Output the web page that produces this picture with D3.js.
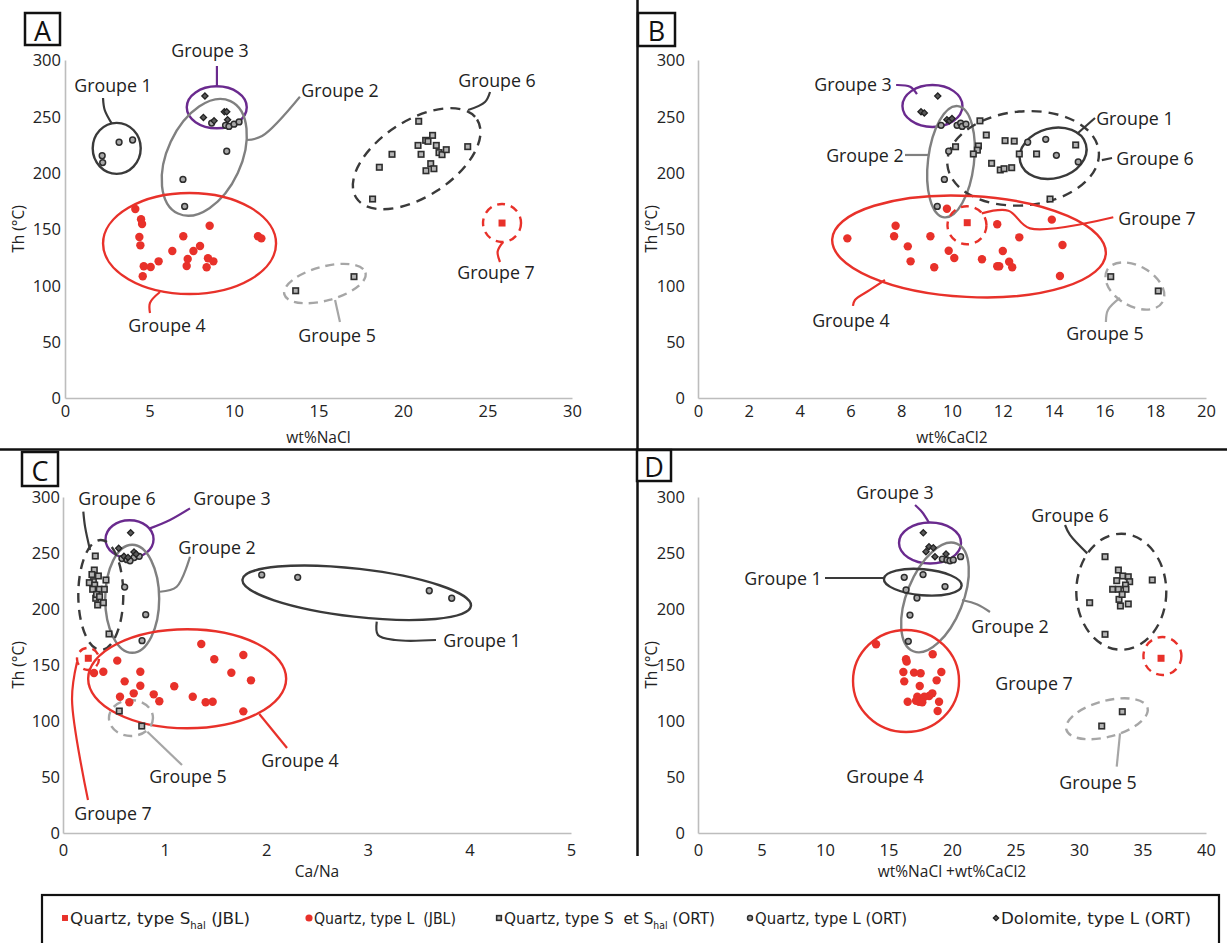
<!DOCTYPE html>
<html><head><meta charset="utf-8">
<script src="https://cdn.jsdelivr.net/npm/d3@7"></script>
<style>body{margin:0;background:#fff} svg{display:block} text{white-space:pre}</style>
</head><body><svg id="c" width="1227" height="943"></svg>
<script>
// ---------- DATA ----------
const thTicks = [0, 50, 100, 150, 200, 250, 300];
const ticksA = [0, 5, 10, 15, 20, 25, 30];
const ticksB = [0, 2, 4, 6, 8, 10, 12, 14, 16, 18, 20];
const ticksC = [0, 1, 2, 3, 4, 5];
const ticksD = [0, 5, 10, 15, 20, 25, 30, 35, 40];

// Panel A : wt%NaCl vs Th
const A_qS_JBL = [[25.86,155.3]];
const A_qL_JBL = [[4.16,167.7],[4.50,158.6],[4.56,154.4],[8.56,152.9],[4.40,142.9],[7.0,143.5],[4.46,135.5],[11.42,143.5],[11.62,141.7],[7.99,134.9],[6.35,130.5],[7.6,130.5],[7.26,123.4],[8.46,124],[8.78,121.3],[5.54,121.3],[4.66,116.9],[5.07,116.3],[7.2,117.2],[8.38,116],[4.6,108]];
const A_qS_ORT = [[20.93,245.6],[18.6,204.8],[19.35,216.3],[18.2,176.6],[21.34,228.7],[21.48,227.8],[21.75,233.1],[20.89,224.2],[21.97,224.2],[21.07,216.3],[22.13,217.8],[22.31,216],[22.56,220.4],[23.83,223.1],[21.64,208],[21.83,203.5],[21.36,201.7],[13.65,95.2],[17.1,107.7]];
const A_qL_ORT = [[3.2,227],[4.0,229],[2.2,215],[2.23,209],[8.68,244],[9.5,242],[9.7,241],[10.0,243],[10.3,245],[9.57,219],[6.98,194],[7.08,170]];
const A_dolo = [[8.28,268],[8.19,249],[8.82,246],[9.43,254],[9.57,254],[9.62,247]];

// Panel B : wt%CaCl2 vs Th
const B_qS_JBL = [[10.6,155.6]];
const B_qL_JBL = [[5.88,141.7],[7.78,152.9],[7.72,143.5],[9.15,143.5],[8.26,134.6],[9.87,130.7],[8.37,121.3],[9.3,116],[10.09,124.3],[11.18,123.1],[9.8,168],[11.78,154.2],[12.65,142.6],[13.93,158.3],[14.35,135.8],[12.0,130.5],[11.78,117],[11.86,117],[12.25,121],[12.37,116],[14.25,108.3]];
const B_qS_ORT = [[11.1,246],[11.35,233.4],[10.14,223],[11.04,223.7],[11.0,220],[10.84,216.6],[12.09,228.4],[12.45,228],[12.65,216.6],[11.56,208.3],[11.9,202.4],[12.05,203.5],[12.35,204.4],[13.33,216.6],[14.87,224.6],[13.86,176.6],[16.25,107.7],[18.12,95]];
const B_qL_ORT = [[9.57,242],[10.2,242],[10.34,244],[10.4,241],[10.55,243],[9.87,219],[9.7,194],[9.42,170],[12.98,227],[13.69,229.6],[14.11,215.4],[14.97,209.5]];
const B_dolo = [[9.44,268],[8.78,254],[8.91,253],[9.8,247],[9.9,246],[10.0,248]];

// Panel C : Ca/Na vs Th
const C_qS_JBL = [[0.249,156]];
const C_qL_JBL = [[1.361,168.8],[1.775,158.9],[1.489,155.1],[0.534,153.9],[0.305,142.9],[0.397,144],[0.761,144],[1.657,143.1],[1.85,136.3],[0.607,135.4],[0.761,131.5],[1.095,131],[0.696,124.7],[0.893,123.8],[0.561,121.7],[1.277,121.7],[0.653,116.7],[0.948,117.6],[1.404,116.7],[1.473,117.2],[1.775,108.6]];
const C_qS_ORT = [[0.318,247.3],[0.308,234.8],[0.348,229.5],[0.423,225.9],[0.299,224.4],[0.259,223.5],[0.312,221.4],[0.292,217.6],[0.357,217.6],[0.407,217.6],[0.322,209.6],[0.341,203.6],[0.397,205.6],[0.453,177.7],[0.285,230.8],[0.33,213],[0.36,211],[0.554,108.9],[0.775,95.5]];
const C_qL_ORT = [[0.58,245],[0.63,244],[0.7,246],[0.75,247],[0.66,243],[0.607,219.6],[0.814,194.9],[0.778,171.7],[1.956,230.4],[2.31,228.3],[3.605,216.3],[3.826,209.6]];
const C_dolo = [[0.666,268],[0.548,254.2],[0.699,250.9],[0.6,247],[0.64,246],[0.72,249]];

// Panel D : wt%NaCl + wt%CaCl2 vs Th
const D_qS_JBL = [[36.46,156]];
const D_qL_JBL = [[14.02,168.5],[18.48,159.6],[16.38,155.1],[16.43,153],[16.17,143.8],[17.01,143.2],[17.53,142.6],[19.16,143.8],[16.24,135.4],[18.79,136.3],[17.46,131.3],[18.45,124.7],[18.2,122.3],[17.27,121.7],[17.82,121.7],[16.51,117.2],[17.4,117.2],[17.66,116.7],[18.98,117.2],[18.87,108.9],[17.17,118.1]];
const D_qS_ORT = [[32.05,246.7],[35.77,225.9],[30.84,205.6],[32.05,177.4],[33.1,234.8],[33.44,229.5],[33.88,228.8],[32.97,225.3],[33.99,224.4],[33.66,221.4],[32.65,217.6],[33.1,217.6],[33.7,217.6],[33.15,208.6],[33.26,202.7],[33.88,204.5],[33.4,213],[33.41,108.3],[31.79,95.5]];
const D_qL_ORT = [[19.24,244.6],[19.6,243.8],[19.84,243.1],[20.1,243.8],[20.68,246.7],[16.24,228.3],[17.72,230.7],[16.38,217],[19.45,220],[17.24,209.8],[16.69,194.6],[16.56,171.1]];
const D_dolo = [[17.74,268],[18.19,255.6],[18.53,254.7],[17.95,251.2],[19.53,249.1],[18.66,246.7]];

// Group annotations (centres, leaders and labels in data units)
const A_groups = [
 {t:"Groupe 1",s:"dark",c:[3.06,221.6],r:[24,25.5],rot:0,lead:[[2.76,243.8],[2.35,255.6],[2.25,266.3]],lab:[2.84,277.8]},
 {t:"Groupe 3",s:"purple",c:[8.98,258],r:[30,21],rot:0,lead:[[8.99,276],[8.99,294.7]],lab:[8.58,308.9]},
 {t:"Groupe 2",s:"gray",c:[8.24,213.6],r:[62,37],rot:-65,lead:[[10.75,229],[11.66,232.5],[13.9,267.4]],lab:[16.27,273.4]},
 {t:"Groupe 4",s:"red",c:[7.37,137.1],r:[86.5,50.5],rot:0,lead:[[5.62,94.1],[5.03,84.5],[5.03,75.4]],lab:[6.04,64.8]},
 {t:"Groupe 5",s:"grayDash",c:[15.38,101.6],r:[42,17],rot:-15,lead:[[15.98,87],[16.27,67.5]],lab:[16.1,55.9]},
 {t:"Groupe 6",s:"darkDash",c:[20.81,212.4],r:[72,38],rot:-33,lead:[[23.85,255.6],[24.85,262.7],[25.15,271.6]],lab:[25.56,282.2]},
 {t:"Groupe 7",s:"redDash",c:[25.86,155.3],r:[19,19],rot:0,lead:[[25.92,138.5],[25.6,130],[25.74,120.7]],lab:[25.5,111.8]}
];
const B_groups = [
 {t:"Groupe 3",s:"purple",c:[9.23,259.2],r:[30,21],rot:0,lead:[[7.8,277.8],[8.35,276.3],[8.62,269.8]],lab:[6.1,278.7]},
 {t:"Groupe 2",s:"gray",c:[9.96,209.7],r:[23,56],rot:7,lead:[[8.15,215.7],[9.06,215.7]],lab:[6.57,215.7]},
 {t:"Groupe 6",s:"darkDash",c:[12.8,212.7],r:[76,47],rot:-5,lead:[[15.9,211.2],[16.3,213]],lab:[17.99,213]},
 {t:"Groupe 1",s:"dark",c:[13.98,217.2],r:[34,25],rot:-15,lead:[[14.96,235.2],[15.63,248.5]],lab:[17.2,248.5]},
 {t:"Groupe 7",s:"redDash",c:[10.59,153.3],r:[19.5,19],rot:0,lead:[[11.17,163.9],[12.22,166.2],[13.07,150.6],[16.35,160.4]],lab:[18.07,159.8]},
 {t:"Groupe 4",s:"red",c:[10.67,134.5],r:[137,50.5],rot:3,lead:[[7.36,104.7],[6.77,95.9],[6.18,87],[6.1,81.7]],lab:[6.02,69.2]},
 {t:"Groupe 5",s:"grayDash",c:[17.2,99.4],r:[32,20],rot:30,lead:[[16.61,88.8],[16.14,78.1],[16.06,67.5]],lab:[16.02,57.7]}
];
const C_groups = [
 {t:"Groupe 3",s:"purple",c:[0.655,262.3],r:[24,19],rot:0,lead:[[0.856,272],[1.053,279.5],[1.25,289.9]],lab:[1.663,299.1]},
 {t:"Groupe 2",s:"gray",c:[0.681,209.1],r:[27,54],rot:0,lead:[[0.955,215.4],[1.119,219.9],[1.25,246.7]],lab:[1.516,255.4]},
 {t:"Groupe 6",s:"darkDash",c:[0.372,212.5],r:[22.5,55],rot:0,lead:[[0.266,252.7],[0.217,273.5],[0.2,286.9]],lab:[0.531,299.1]},
 {t:"Groupe 1",s:"dark",c:[2.891,214.5],r:[115,24],rot:6.6,lead:[[3.088,188.7],[3.1,176.8],[3.268,172.3],[3.671,172.3]],lab:[4.124,172.3]},
 {t:"Groupe 4",s:"red",c:[1.222,137.7],r:[99,49.5],rot:0,lead:[[1.932,106.3],[2.205,75.9]],lab:[2.333,65.2]},
 {t:"Groupe 5",s:"grayDash",c:[0.669,102.7],r:[22,18],rot:0,lead:[[0.83,90.4],[1.171,60.7]],lab:[1.23,50.9]},
 {t:"Groupe 7",s:"redDash",c:[0.246,155.4],r:[11,11],rot:0,lead:[[0.138,152.7],[0.089,118.8],[0.246,29.5]],lab:[0.492,17.9]}
];
const D_groups = [
 {t:"Groupe 3",s:"purple",c:[18.27,258.9],r:[31,20.5],rot:0,lead:[[18.19,277],[17.64,286.6],[17.09,292.9]],lab:[15.51,304.5]},
 {t:"Groupe 2",s:"gray",c:[18.66,210.3],r:[58,28],rot:-68,lead:[[20.79,208],[22.0,204],[22.99,197.3]],lab:[24.57,184.8]},
 {t:"Groupe 1",s:"dark",c:[17.7,223.9],r:[39,13],rot:5,lead:[[14.65,227.7],[10.0,227.7]],lab:[6.69,227.7]},
 {t:"Groupe 4",s:"red",c:[16.38,135.7],r:[53,51],rot:0,lead:[],lab:[14.72,50.9]},
 {t:"Groupe 6",s:"darkDash",c:[33.33,215.4],r:[45,58],rot:0,lead:[[30.65,249.7],[29.29,266.1],[28.9,275]],lab:[29.29,283.9]},
 {t:"Groupe 7",s:"redDash",c:[36.57,158],r:[19,19],rot:0,lead:[],lab:[26.46,133.9]},
 {t:"Groupe 5",s:"grayDash",c:[32.2,102],r:[42,18],rot:-15,lead:[[33.23,89],[32.97,59.2]],lab:[31.5,45.5]}
];

const legendKeys = ["qS_JBL","qL_JBL","qS_ORT","qL_ORT","dolo"];
const legendLabels = [
 ["Quartz, type S","hal"," (JBL)"],
 ["Quartz, type L  (JBL)","",""],
 ["Quartz, type S  et S","hal"," (ORT)"],
 ["Quartz, type L (ORT)","",""],
 ["Dolomite, type L (ORT)","",""]
];

// ---------- STYLES / LAYOUT ----------
const RED = "#e8312a";
const styles = {
  dark:{stroke:"#3a3a3a",dash:null},
  darkDash:{stroke:"#3a3a3a",dash:"10,7"},
  gray:{stroke:"#808080",dash:null},
  grayDash:{stroke:"#a6a6a6",dash:"9,6"},
  purple:{stroke:"#6a2a8e",dash:null},
  red:{stroke:RED,dash:null},
  redDash:{stroke:RED,dash:"8,6"}
};
const FONT = "'Open Sans', 'DejaVu Sans', sans-serif";
const svg = d3.select("#c");

const panels = [
 {id:"A",ticks:ticksA,dom:[0,30],xr:[65,572],yr:[398,60],ylx:61,xty:411,title:"wt%NaCl",tty:437,thx:18,
  box:[25,13,35,32],data:{qS_JBL:A_qS_JBL,qL_JBL:A_qL_JBL,qS_ORT:A_qS_ORT,qL_ORT:A_qL_ORT,dolo:A_dolo},groups:A_groups},
 {id:"B",ticks:ticksB,dom:[0,20],xr:[698,1206],yr:[398,60],ylx:685,xty:411,title:"wt%CaCl2",tty:437,thx:651,
  box:[638,13,37,33],data:{qS_JBL:B_qS_JBL,qL_JBL:B_qL_JBL,qS_ORT:B_qS_ORT,qL_ORT:B_qL_ORT,dolo:B_dolo},groups:B_groups},
 {id:"C",ticks:ticksC,dom:[0,5],xr:[63,571],yr:[833,497],ylx:60,xty:850,title:"Ca/Na",tty:871,thx:18,
  box:[22,452,36,34],data:{qS_JBL:C_qS_JBL,qL_JBL:C_qL_JBL,qS_ORT:C_qS_ORT,qL_ORT:C_qL_ORT,dolo:C_dolo},groups:C_groups},
 {id:"D",ticks:ticksD,dom:[0,40],xr:[698,1206],yr:[833,497],ylx:685,xty:850,title:"wt%NaCl +wt%CaCl2",tty:871,thx:651,
  box:[637,450,34,31],data:{qS_JBL:D_qS_JBL,qL_JBL:D_qL_JBL,qS_ORT:D_qS_ORT,qL_ORT:D_qL_ORT,dolo:D_dolo},groups:D_groups}
];

function drawMarker(g, key, px, py, k) {
  k = k || 1;
  if (key === "qS_JBL") {
    const s = 7*k;
    g.append("rect").attr("x",px-s/2).attr("y",py-s/2).attr("width",s).attr("height",s).attr("fill",RED);
  } else if (key === "qL_JBL") {
    g.append("circle").attr("cx",px).attr("cy",py).attr("r",4.2*k).attr("fill",RED);
  } else if (key === "qS_ORT") {
    const s = 5.5*k;
    g.append("rect").attr("x",px-s/2).attr("y",py-s/2).attr("width",s).attr("height",s)
     .attr("fill","#b5b5b5").attr("stroke","#2e2e2e").attr("stroke-width",1.6);
  } else if (key === "qL_ORT") {
    g.append("circle").attr("cx",px).attr("cy",py).attr("r",2.9*k)
     .attr("fill","#a8a8a8").attr("stroke","#2e2e2e").attr("stroke-width",1.5);
  } else if (key === "dolo") {
    const s = 3.1*k;
    g.append("path").attr("d",`M${px},${py-s}L${px+s},${py}L${px},${py+s}L${px-s},${py}Z`)
     .attr("fill","#5a5a5a").attr("stroke","#222").attr("stroke-width",1.3);
  }
}

panels.forEach(p => {
  const x = d3.scaleLinear().domain(p.dom).range(p.xr);
  const y = d3.scaleLinear().domain([0,300]).range(p.yr);
  const g = svg.append("g");

  // axes (lines only, no tick marks)
  const xAxis = d3.axisBottom(x).tickValues(p.ticks).tickSize(0).tickPadding(0).tickFormat(d3.format("d"));
  const yAxis = d3.axisLeft(y).tickValues(thTicks).tickSize(0).tickPadding(0).tickFormat(d3.format("d"));
  const xa = g.append("g").attr("transform",`translate(0,${p.yr[0]})`).call(xAxis);
  xa.select(".domain").attr("stroke","#bdbdbd").attr("stroke-width",1.6);
  xa.selectAll("text").attr("y",p.xty - p.yr[0]).attr("dy","0.35em")
    .attr("font-family",FONT).attr("font-size",16.5).attr("fill","#222");
  const ya = g.append("g").attr("transform",`translate(${p.xr[0]},0)`).call(yAxis);
  ya.select(".domain").attr("stroke","#bdbdbd").attr("stroke-width",1.6);
  ya.selectAll("text").attr("x",p.ylx - p.xr[0]).attr("dy","0.35em")
    .attr("font-family",FONT).attr("font-size",16.5).attr("fill","#222");

  g.append("text").attr("x",(p.xr[0]+p.xr[1])/2).attr("y",p.tty).attr("text-anchor","middle")
   .attr("dominant-baseline","central").attr("font-family",FONT).attr("font-size",15.5).attr("fill","#222").text(p.title);
  const thy = (p.yr[0]+p.yr[1])/2;
  g.append("text").attr("transform",`translate(${p.thx},${thy}) rotate(-90)`).attr("text-anchor","middle")
   .attr("dominant-baseline","central").attr("font-family",FONT).attr("font-size",15.5).attr("fill","#222").text("Th (°C)");

  // group ellipses, leaders, labels
  const line = d3.line().x(d=>x(d[0])).y(d=>y(d[1])).curve(d3.curveCatmullRom.alpha(0.5));
  p.groups.forEach(gr => {
    const st = styles[gr.s];
    const cx = x(gr.c[0]), cy = y(gr.c[1]);
    g.append("ellipse").attr("cx",cx).attr("cy",cy).attr("rx",gr.r[0]).attr("ry",gr.r[1])
     .attr("transform",`rotate(${gr.rot},${cx},${cy})`)
     .attr("fill","none").attr("stroke",st.stroke).attr("stroke-width",2.4)
     .attr("stroke-dasharray",st.dash);
    if (gr.lead.length) {
      g.append("path").attr("d",line(gr.lead)).attr("fill","none")
       .attr("stroke",st.stroke).attr("stroke-width",2.2);
    }
    g.append("text").attr("x",x(gr.lab[0])).attr("y",y(gr.lab[1])).attr("text-anchor","middle")
     .attr("dominant-baseline","central").attr("font-family",FONT).attr("font-size",17.8)
     .attr("fill","#222").text(gr.t);
  });

  // points
  ["qL_JBL","qS_ORT","qL_ORT","dolo","qS_JBL"].forEach(key => {
    p.data[key].forEach(d => drawMarker(g, key, x(d[0]), y(d[1])));
  });

  // panel letter box
  g.append("rect").attr("x",p.box[0]).attr("y",p.box[1]).attr("width",p.box[2]).attr("height",p.box[3])
   .attr("fill","#fff").attr("stroke","#111").attr("stroke-width",2.5);
  g.append("text").attr("x",p.box[0]+p.box[2]/2).attr("y",p.box[1]+p.box[3]/2+1).attr("text-anchor","middle")
   .attr("dominant-baseline","central").attr("font-family",FONT).attr("font-size",27).attr("fill","#111").text(p.id);
});

// frame lines
svg.append("line").attr("x1",637.5).attr("x2",637.5).attr("y1",0).attr("y2",856).attr("stroke","#111").attr("stroke-width",2.5);
svg.append("line").attr("x1",0).attr("x2",1227).attr("y1",449.5).attr("y2",449.5).attr("stroke","#111").attr("stroke-width",2.5);
svg.selectAll("g").raise();

// legend
const lg = svg.append("g");
lg.append("rect").attr("x",42).attr("y",895).attr("width",1177).attr("height",60)
  .attr("fill","#fff").attr("stroke","#111").attr("stroke-width",2.2);
const legX = [65, 309, 499, 750, 996];
const legW = [180, 142, 211, 152, 190];
legendKeys.forEach((k,i) => {
  drawMarker(lg, k, legX[i], 918, 0.85);
  const t = lg.append("text").attr("x",legX[i]+5).attr("y",918).attr("dy","0.35em")
    .attr("font-family","'Liberation Sans Narrow', 'DejaVu Sans Condensed', sans-serif").attr("font-size",16.5)
    .attr("fill","#222").attr("textLength",legW[i]).attr("lengthAdjust","spacingAndGlyphs");
  const parts = legendLabels[i];
  t.append("tspan").text(parts[0]);
  if (parts[1]) {
    t.append("tspan").attr("font-size",10).attr("dy",5).text(parts[1]);
    t.append("tspan").attr("dy",-5).text(parts[2]);
  }
});
</script></body></html>
